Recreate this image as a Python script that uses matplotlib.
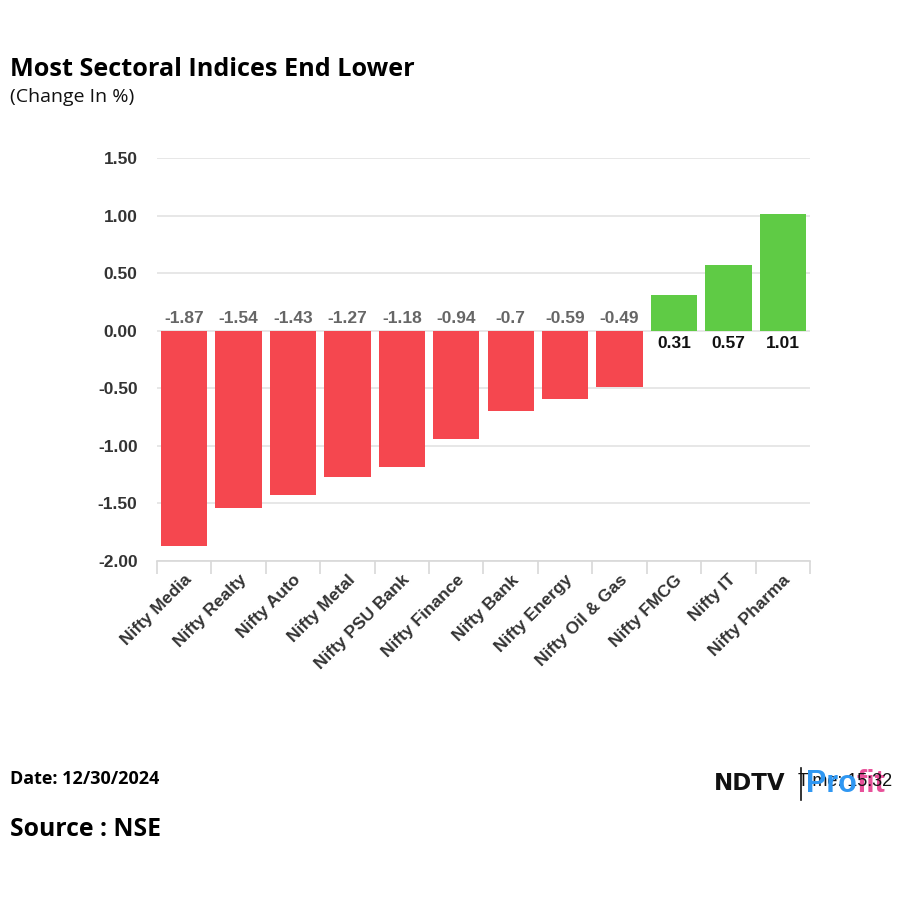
import matplotlib
matplotlib.use("Agg")
import matplotlib.pyplot as plt
from matplotlib.text import Annotation
import numpy as np

categories = ["Nifty Media", "Nifty Realty", "Nifty Auto", "Nifty Metal", "Nifty PSU Bank",
              "Nifty Finance", "Nifty Bank", "Nifty Energy", "Nifty Oil & Gas", "Nifty FMCG",
              "Nifty IT", "Nifty Pharma"]
values = [-1.87, -1.54, -1.43, -1.27, -1.18, -0.94, -0.7, -0.59, -0.49, 0.31, 0.57, 1.01]
value_labels = ["-1.87", "-1.54", "-1.43", "-1.27", "-1.18", "-0.94", "-0.7", "-0.59", "-0.49",
                "0.31", "0.57", "1.01"]
yticks = [-2.0, -1.5, -1.0, -0.5, 0.0, 0.5, 1.0, 1.5]
ytick_labels = ["-2.00", "-1.50", "-1.00", "-0.50", "0.00", "0.50", "1.00", "1.50"]

RED = "#F5474F"
GREEN = "#5FCB45"

fig = plt.figure(figsize=(9, 9), dpi=100)
ax = fig.add_axes([157/900, 1-561/900, (810-157)/900, (561-158)/900])

x = np.arange(len(categories))
colors = [GREEN if v >= 0 else RED for v in values]
ax.bar(x, values, width=0.85, color=colors, zorder=3)

ax.set_xlim(-0.5, len(categories) - 0.5)
ax.set_ylim(-2.0, 1.5)
ax.set_yticks(yticks)
ax.set_yticklabels(ytick_labels, fontsize=12.5, fontweight="bold", color="#333333",
                   family="Liberation Sans")
ax.tick_params(axis="y", length=0, pad=14)
ax.grid(axis="y", color="#e3e3e3", linewidth=1.2, zorder=0)

ax.set_xticks(x)
ax.set_xticklabels(categories, rotation=45, ha="right", rotation_mode="anchor",
                   fontsize=12.5, fontweight="bold", color="#333333", family="Liberation Sans")
ax.tick_params(axis="x", length=0, pad=8)
# boundary tick marks
ax.set_xticks(np.arange(-0.5, len(categories) + 0.5, 1), minor=True)
ax.tick_params(axis="x", which="minor", length=9, color="#d8d8d8", width=1.2)

for s in ["top", "right", "left"]:
    ax.spines[s].set_visible(False)
ax.spines["bottom"].set_color("#d8d8d8")
ax.spines["bottom"].set_linewidth(1.2)

for xi, v, lab in zip(x, values, value_labels):
    if v < 0:
        ax.annotate(lab, (xi, 0), xytext=(0, 3.5), textcoords="offset points",
                    ha="center", va="bottom", fontsize=12.5, fontweight="bold",
                    color="#666666", family="Liberation Sans", zorder=4)
    else:
        ax.annotate(lab, (xi, 0), xytext=(0, -4), textcoords="offset points",
                    ha="center", va="top", fontsize=12.5, fontweight="bold",
                    color="#111111", family="Liberation Sans", zorder=4)

fig.text(10/900, 1-70/900, "Most Sectoral Indices End Lower", fontsize=18.2, fontweight="bold",
         family="Open Sans", color="#000000", va="center", ha="left")
fig.text(10/900, 1-97/900, "(Change In %)", fontsize=14, family="Open Sans",
         color="#111111", va="center", ha="left")

fig.text(10/900, 1-779/900, "Date: 12/30/2024", fontsize=13, fontweight="bold",
         family="Open Sans", color="#000000", va="center", ha="left")
fig.text(10/900, 1-830/900, "Source : NSE", fontsize=17.8, fontweight="bold",
         family="Open Sans", color="#000000", va="center", ha="left")

# logo approximation
fig.text(714/900, 1-783/900, "NDTV", fontsize=16.5, fontweight="bold", family="DejaVu Sans",
         color="#111111", va="center", ha="left")
fig.add_artist(plt.Line2D([801/900, 801/900], [1-768/900, 1-800/900], color="#111111", lw=1.2))
fig.text(798/900, 1-781/900, "Time: 15:32", fontsize=13, family="Liberation Sans",
         color="#111111", va="center", ha="left")
t_pro = fig.text(806/900, 1-784/900, "Pro", fontsize=22, fontweight="bold",
                 family="Liberation Sans", color="#2f97f2", va="center", ha="left")
fig.add_artist(Annotation(
    "fit", xy=(1.0, 0.0), xycoords=t_pro, xytext=(0, 0), textcoords="offset points",
    fontsize=22, fontweight="bold", family="Liberation Sans", color="#e8519a",
    va="bottom", ha="left"))

fig.savefig("out.png", dpi=100, facecolor="white")
